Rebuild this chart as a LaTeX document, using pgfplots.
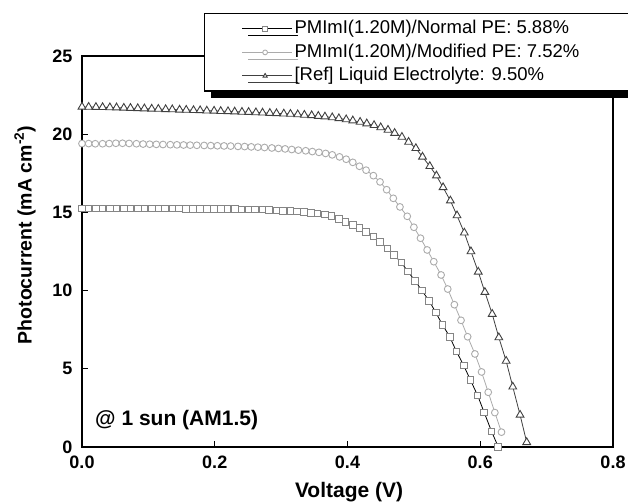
\documentclass[border=0pt]{standalone}
\usepackage{fontspec}
\setmainfont{Liberation Sans}
\usepackage{pgfplots}
\pgfplotsset{compat=1.18}
\usetikzlibrary{shadows}

\definecolor{sqmark}{HTML}{858585}
\definecolor{cirgray}{HTML}{ABABAB}
\definecolor{tridark}{HTML}{404040}

\begin{document}
\begin{tikzpicture}
\useasboundingbox (-82pt,-54pt) rectangle (546pt,447pt);
\begin{axis}[
  at={(0pt,0pt)}, anchor=south west,
  scale only axis,
  width=531pt, height=391pt,
  xmin=0, xmax=0.8, ymin=0, ymax=25,
  xtick={0,0.2,0.4,0.6,0.8},
  ytick={0,5,10,15,20,25},
  xtick pos=bottom, ytick pos=left,
  tick align=inside,
  major tick length=6pt,
  axis line style={line width=1.1pt},
  every tick/.style={black, line width=1pt},
  ticklabel style={font=\fontsize{18}{20}\selectfont\bfseries,
    /pgf/number format/assume math mode=true},
  xticklabel style={yshift=-5pt, /pgf/number format/fixed,
    /pgf/number format/fixed zerofill, /pgf/number format/precision=1},
  yticklabel style={xshift=-6pt},
  xlabel={Voltage (V)},
  ylabel={Photocurrent (mA cm\textsuperscript{-2})},
  every axis x label/.style={at={(axis description cs:0.503,0)}, anchor=center,
    yshift=-45pt, font=\fontsize{21}{23}\selectfont\bfseries},
  every axis y label/.style={at={(axis description cs:0,0.542)}, rotate=90,
    anchor=center, yshift=57pt, font=\fontsize{19.5}{21}\selectfont\bfseries},
  legend cell align=left,
  legend style={at={(axis description cs:0.2298,1.110)}, anchor=north west,
    draw=black, line width=1.3pt, fill=white,
    drop shadow={shadow xshift=6pt, shadow yshift=-7pt, fill=black, opacity=1},
    font=\fontsize{18.5}{20}\selectfont,
    inner xsep=37pt, inner ysep=3.5pt, row sep=0pt,
    nodes={inner xsep=2pt, inner ysep=3pt, text height=13.5pt, text depth=4pt}},
  legend image code/.code={%
    \path (0pt,0pt) -- (50pt,0pt);
    \draw[mark repeat=2, mark phase=2, #1, mark size=2.4pt, line width=0.9pt]
      plot coordinates {(0pt,0pt) (23pt,0pt) (46pt,0pt)};},
]
\addplot[color=black, line width=0.8pt, mark=square*, mark size=3.3pt,
  mark options={draw=sqmark, fill=white, solid, line width=0.9pt},
  legend image post style={draw=black}] coordinates {
(0.000,15.25) (0.010,15.25) (0.021,15.25) (0.031,15.25) (0.042,15.25)
(0.052,15.25) (0.063,15.25) (0.073,15.25) (0.084,15.25) (0.094,15.25)
(0.105,15.25) (0.115,15.24) (0.125,15.24) (0.136,15.24) (0.146,15.24)
(0.157,15.23) (0.167,15.23) (0.178,15.23) (0.188,15.22) (0.199,15.22)
(0.209,15.22) (0.219,15.21) (0.230,15.21) (0.240,15.20) (0.251,15.20)
(0.261,15.19) (0.272,15.18) (0.282,15.17) (0.293,15.12) (0.303,15.10)
(0.314,15.08) (0.324,15.05) (0.334,15.02) (0.345,14.98) (0.355,14.93)
(0.366,14.86) (0.376,14.76) (0.387,14.58) (0.397,14.40) (0.408,14.20)
(0.418,14.00) (0.428,13.75) (0.439,13.45) (0.449,13.10) (0.460,12.70)
(0.470,12.28) (0.481,11.80) (0.491,11.22) (0.502,10.62) (0.512,10.00)
(0.523,9.35) (0.533,8.60) (0.543,7.82) (0.554,7.05) (0.564,6.12)
(0.575,5.22) (0.585,4.30) (0.596,3.30) (0.606,2.20) (0.617,1.00)
(0.627,0.02)};
\addlegendentry{PMImI(1.20M)/Normal PE: 5.88\%\hspace*{26pt}}

\addplot[color=cirgray, line width=0.8pt, mark=*, mark size=3.4pt,
  mark options={draw=cirgray, fill=white, solid, line width=0.9pt},
  legend image post style={draw=cirgray}] coordinates {
(0.000,19.40) (0.010,19.40) (0.020,19.39) (0.031,19.39) (0.041,19.40)
(0.051,19.42) (0.061,19.42) (0.071,19.41) (0.082,19.39) (0.092,19.37)
(0.102,19.36) (0.112,19.35) (0.122,19.34) (0.133,19.33) (0.143,19.32)
(0.153,19.31) (0.163,19.30) (0.173,19.29) (0.184,19.28) (0.194,19.27)
(0.204,19.26) (0.214,19.25) (0.224,19.24) (0.235,19.22) (0.245,19.21)
(0.255,19.19) (0.265,19.17) (0.275,19.15) (0.286,19.12) (0.296,19.09)
(0.306,19.06) (0.316,19.02) (0.326,18.98) (0.337,18.94) (0.347,18.89)
(0.357,18.84) (0.367,18.77) (0.377,18.68) (0.388,18.55) (0.398,18.40)
(0.408,18.20) (0.418,17.95) (0.428,17.70) (0.439,17.35) (0.449,16.95)
(0.459,16.45) (0.469,15.90) (0.479,15.35) (0.490,14.75) (0.500,14.05)
(0.510,13.35) (0.520,12.60) (0.530,11.85) (0.541,11.00) (0.551,10.10)
(0.561,9.10) (0.571,8.10) (0.581,7.05) (0.592,5.95) (0.602,4.80)
(0.612,3.50) (0.622,2.20) (0.632,0.95)};
\addlegendentry{PMImI(1.20M)/Modified PE: 7.52\%\hspace*{26pt}}

\addplot[color=tridark, line width=0.8pt, mark=triangle*, mark size=4.5pt,
  mark options={draw=tridark, fill=white, solid, line width=0.9pt},
  legend image post style={draw=tridark}] coordinates {
(0.000,21.75) (0.010,21.74) (0.021,21.73) (0.031,21.72) (0.042,21.71)
(0.052,21.70) (0.063,21.68) (0.073,21.67) (0.084,21.65) (0.094,21.64)
(0.105,21.62) (0.115,21.61) (0.126,21.59) (0.136,21.58) (0.147,21.56)
(0.157,21.55) (0.168,21.53) (0.178,21.52) (0.188,21.50) (0.199,21.49)
(0.209,21.47) (0.220,21.46) (0.230,21.44) (0.241,21.42) (0.251,21.41)
(0.262,21.39) (0.272,21.37) (0.283,21.35) (0.293,21.33) (0.304,21.31)
(0.314,21.29) (0.325,21.26) (0.335,21.23) (0.346,21.20) (0.356,21.16)
(0.366,21.12) (0.377,21.07) (0.387,21.01) (0.398,20.94) (0.408,20.87)
(0.419,20.78) (0.429,20.68) (0.440,20.57) (0.450,20.43) (0.461,20.27)
(0.471,20.07) (0.482,19.82) (0.492,19.50) (0.503,19.10) (0.513,18.55)
(0.524,17.95) (0.534,17.35) (0.544,16.60) (0.555,15.75) (0.565,14.80)
(0.576,13.70) (0.586,12.50) (0.597,11.20) (0.607,9.90) (0.618,8.50)
(0.628,7.00) (0.639,5.50) (0.649,3.85) (0.660,2.05) (0.670,0.30)};
\addlegendentry{[Ref] Liquid Electrolyte: 9.50\%}

\node[anchor=west, inner sep=0pt, font=\fontsize{21}{23}\selectfont\bfseries]
  at (axis cs:0.0196,1.73) {@ 1 sun (AM1.5)};
\end{axis}
\end{tikzpicture}
\end{document}
